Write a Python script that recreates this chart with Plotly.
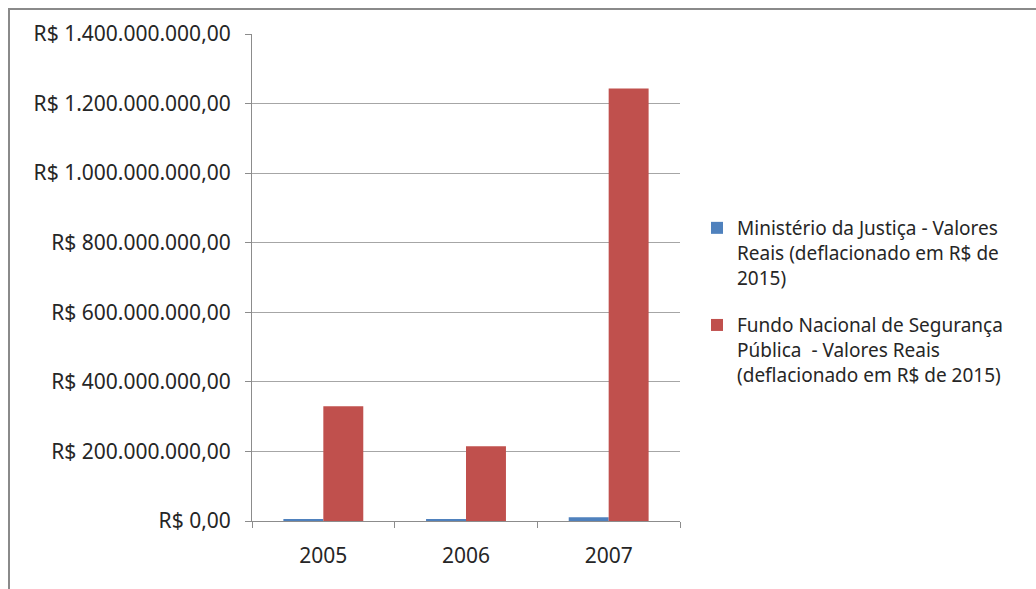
import plotly.graph_objects as go

# Anos e valores (R$ de 2015)
anos = ["2005", "2006", "2007"]
ministerio_justica = [4_000_000, 4_000_000, 11_000_000]
fundo_seguranca = [330_000_000, 215_000_000, 1_243_000_000]

serie_mj = "Ministério da Justiça - Valores<br>Reais (deflacionado em R$ de<br>2015)"
serie_fnsp = "Fundo Nacional de Segurança<br>Pública  - Valores Reais<br>(deflacionado em R$ de 2015)"

y_ticks = [0, 200_000_000, 400_000_000, 600_000_000, 800_000_000,
           1_000_000_000, 1_200_000_000, 1_400_000_000]
y_tick_text = ["R$ 0,00", "R$ 200.000.000,00", "R$ 400.000.000,00",
               "R$ 600.000.000,00", "R$ 800.000.000,00",
               "R$ 1.000.000.000,00", "R$ 1.200.000.000,00",
               "R$ 1.400.000.000,00"]

FONT = "Noto Sans"
TXT = "#262626"
AXIS = "#8c8c8c"

fig = go.Figure()
fig.add_trace(go.Bar(x=anos, y=ministerio_justica, name=serie_mj,
                     legendgroup="mj",
                     marker=dict(color="#4F81BD", line=dict(width=0))))
fig.add_trace(go.Bar(x=anos, y=fundo_seguranca, name=serie_fnsp,
                     legendgroup="fnsp",
                     marker=dict(color="#C0504D", line=dict(width=0))))

W, H = 1036, 589
L, R, T, B = 252, 680, 34, 521
pw, ph = R - L, B - T

def px_x(x):
    return (x - L) / pw

def px_y(y):
    return (B - y) / ph

fig.update_layout(
    width=W, height=H,
    margin=dict(l=L, r=W - R, t=T, b=H - B, pad=0),
    paper_bgcolor="white", plot_bgcolor="white",
    barmode="group", bargap=0.44, bargroupgap=0,
    font=dict(family=FONT, size=20, color=TXT),
    showlegend=True,
    legend=dict(x=px_x(697), y=px_y(209), xanchor="left", yanchor="top",
                font=dict(family=FONT, size=19, color=TXT),
                itemsizing="constant", tracegroupgap=20,
                bgcolor="rgba(0,0,0,0)", traceorder="grouped",
                valign="top"),
    xaxis=dict(showline=True, linecolor=AXIS, linewidth=1,
               ticks="outside", tickson="boundaries", ticklen=6,
               tickcolor=AXIS, showgrid=False,
               tickfont=dict(family=FONT, size=21, color=TXT),
               ticklabelstandoff=16),
    yaxis=dict(range=[0, 1_400_000_000], tickvals=y_ticks, ticktext=y_tick_text,
               showline=True, linecolor=AXIS, linewidth=1,
               ticks="outside", ticklen=6, tickcolor=AXIS,
               showgrid=True, gridcolor="#a6a6a6", gridwidth=1,
               zeroline=False,
               tickfont=dict(family=FONT, size=21, color=TXT),
               ticklabelstandoff=10),
    shapes=[dict(type="rect", xref="paper", yref="paper",
                 x0=px_x(9), x1=px_x(1045), y0=px_y(600), y1=px_y(9),
                 line=dict(color="#8a8a8a", width=2), layer="below")],
)

fig.write_html("out.html")
